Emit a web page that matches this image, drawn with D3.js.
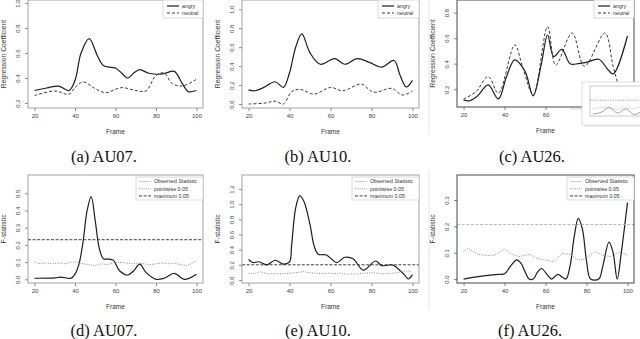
<!DOCTYPE html>
<html>
<head>
<meta charset="utf-8">
<script src="https://cdn.jsdelivr.net/npm/d3@7"></script>
<style>
  body { margin: 0; background: #fff; }
  svg { display: block; font-family: "Liberation Sans", Arial, sans-serif; }
</style>
</head>
<body>
<svg id="fig" width="640" height="339"></svg>
<script>
// ---- data ----
const frameTicks = [20, 40, 60, 80, 100];

// (a) AU07 regression coefficients
const au07AngryFrames = [20, 26, 32, 37, 40, 43, 47, 51, 54, 58, 60, 63, 66, 69, 72, 76, 80, 84, 89, 93, 96, 100];
const au07AngryCoef = [0.30, 0.32, 0.335, 0.30, 0.38, 0.60, 0.715, 0.58, 0.50, 0.485, 0.48, 0.44, 0.40, 0.44, 0.467, 0.44, 0.43, 0.435, 0.453, 0.355, 0.29, 0.30];
const au07NeutralFrames = [20, 30, 37, 40, 44, 50, 55, 63, 70, 75, 80, 84, 88, 93, 100];
const au07NeutralCoef = [0.26, 0.296, 0.27, 0.323, 0.368, 0.315, 0.283, 0.323, 0.30, 0.296, 0.42, 0.44, 0.355, 0.336, 0.39];

// (b) AU10 regression coefficients
const au10AngryFrames = [20, 23, 27, 33, 37, 40, 43, 46, 50, 55, 62, 67, 73, 79, 85, 91, 94, 97, 100];
const au10AngryCoef = [0.15, 0.14, 0.17, 0.235, 0.175, 0.33, 0.60, 0.74, 0.54, 0.42, 0.48, 0.42, 0.48, 0.44, 0.39, 0.46, 0.30, 0.18, 0.25];
const au10NeutralFrames = [20, 28, 33, 37, 41, 45, 52, 60, 66, 75, 81, 90, 95, 100];
const au10NeutralCoef = [0.0, 0.01, 0.03, 0.0, 0.13, 0.155, 0.105, 0.175, 0.14, 0.21, 0.125, 0.165, 0.095, 0.137];

// (c) AU26 regression coefficients
const au26AngryFrames = [20, 23, 27, 32, 37, 41, 45, 50, 54, 58, 61, 64, 68, 72, 76, 80, 86, 90, 93, 100];
const au26AngryCoef = [0.117, 0.11, 0.15, 0.234, 0.124, 0.30, 0.43, 0.34, 0.148, 0.40, 0.625, 0.456, 0.513, 0.40, 0.40, 0.41, 0.435, 0.364, 0.32, 0.617];
const au26NeutralFrames = [20, 26, 32, 37, 45, 49, 54, 61, 65, 73, 79, 89, 93, 96, 100];
const au26NeutralCoef = [0.124, 0.18, 0.30, 0.17, 0.547, 0.364, 0.156, 0.69, 0.39, 0.64, 0.38, 0.64, 0.38, 0.22, 0.10];

// (d) AU07 F-statistic
const au07ObsFrames = [20, 30, 33, 38, 40, 42, 44, 46, 48, 50, 52, 54, 57, 59, 62, 66, 69, 72, 75, 80, 84, 89, 94, 100];
const au07ObsF = [0.006, 0.008, 0.013, 0.006, 0.03, 0.09, 0.22, 0.40, 0.48, 0.34, 0.18, 0.12, 0.117, 0.11, 0.05, 0.025, 0.05, 0.088, 0.04, 0.0, 0.006, 0.035, 0.0, 0.03];
const pointwiseFrames = [20, 23, 26, 29, 32, 35, 38, 41, 44, 47, 50, 53, 56, 59, 62, 65, 68, 71, 74, 77, 80, 83, 86, 89, 92, 95, 98, 100];
const au07PointwiseF = [0.10, 0.09, 0.095, 0.09, 0.095, 0.09, 0.10, 0.10, 0.09, 0.085, 0.08, 0.09, 0.085, 0.095, 0.10, 0.095, 0.09, 0.095, 0.09, 0.085, 0.09, 0.095, 0.09, 0.095, 0.085, 0.08, 0.095, 0.11];
const au07MaximumF = 0.23;

// (e) AU10 F-statistic
const au10ObsFrames = [20, 22, 25, 29, 33, 37, 40, 41, 43, 45, 47, 50, 52, 54, 58, 63, 67, 71, 76, 82, 85, 90, 92, 96, 98, 100];
const au10ObsF = [0.27, 0.23, 0.24, 0.20, 0.26, 0.21, 0.24, 0.45, 0.95, 1.11, 1.04, 0.73, 0.45, 0.34, 0.33, 0.23, 0.30, 0.28, 0.13, 0.25, 0.19, 0.20, 0.17, 0.07, 0.013, 0.07];
const au10PointwiseF = [0.09, 0.085, 0.11, 0.08, 0.085, 0.08, 0.085, 0.09, 0.10, 0.11, 0.095, 0.09, 0.085, 0.09, 0.085, 0.09, 0.075, 0.08, 0.085, 0.09, 0.095, 0.09, 0.08, 0.085, 0.095, 0.11, 0.12, 0.10];
const au10MaximumF = 0.20;

// (f) AU26 F-statistic
const au26ObsFrames = [20, 28, 37, 40, 43, 46, 48, 50, 52, 54, 56, 58, 61, 63, 66, 68, 70, 72, 74, 76, 78, 80, 82, 86, 88, 91, 93, 95, 97, 100];
const au26ObsF = [0.0, 0.01, 0.018, 0.02, 0.05, 0.073, 0.06, 0.028, 0.0, 0.0, 0.025, 0.04, 0.015, 0.0, 0.018, 0.008, 0.0, 0.05, 0.16, 0.23, 0.19, 0.07, 0.0, 0.0, 0.05, 0.14, 0.10, 0.0, 0.10, 0.29];
const au26PointwiseFrames = [20, 22, 27, 31, 35, 38, 40, 43, 47, 52, 56, 60, 64, 68, 72, 76, 80, 84, 88, 92, 96, 100];
const au26PointwiseF = [0.104, 0.117, 0.094, 0.09, 0.09, 0.104, 0.114, 0.097, 0.085, 0.094, 0.078, 0.072, 0.066, 0.097, 0.094, 0.072, 0.078, 0.104, 0.09, 0.085, 0.104, 0.09];
const au26MaximumF = 0.207;

// thumbnail that overlaps panel (c)
const insetFrames = [20, 30, 40, 50, 60, 70, 80, 90, 100];
const insetObserved = [0.01, 0.03, 0.10, 0.02, 0.08, 0.0, 0.06, 0.18, 0.12];
const insetPointwise = [0.08, 0.10, 0.09, 0.07, 0.10, 0.08, 0.12, 0.20, 0.15];
const insetMaximum = 0.2;

const coefLegend = ["angry", "neutral"];
const fLegend = ["Observed Statistic", "pointwise 0.05", "maximum 0.05"];

// ---- drawing ----
const svg = d3.select("#fig");
const curve = d3.curveCatmullRom.alpha(0.5);
const zip = (xs, ys) => xs.map((f, i) => ({ f, v: ys[i] }));

const styles = {
  solid: { stroke: "#1e1e1e", width: 1.2, dash: null },
  dashed: { stroke: "#3a3a3a", width: 1.0, dash: "3,2" },
  dotted: { stroke: "#808080", width: 0.9, dash: "1,1.3" },
  maxDark: { stroke: "#2a2a2a", width: 0.9, dash: "3,1.6" },
  maxLight: { stroke: "#b0b0b0", width: 0.9, dash: "3,1.6" }
};

// light frame lines next to panels (c) and (f)
svg.append("line").attr("x1", 429).attr("x2", 429).attr("y1", 0).attr("y2", 135)
  .attr("stroke", "#e6e6e6").attr("stroke-width", 1);
svg.append("line").attr("x1", 429).attr("x2", 429).attr("y1", 170).attr("y2", 310)
  .attr("stroke", "#e6e6e6").attr("stroke-width", 1);

function drawPanel(p, idx) {
  const g = svg.append("g");
  const x = d3.scaleLinear().domain([16.8, 103.2]).range([p.x0, p.x1]);
  const y = d3.scaleLinear().domain(p.yDomain).range([p.y1, p.y0]);

  const clipId = "clip" + idx;
  g.append("clipPath").attr("id", clipId).append("rect")
    .attr("x", p.x0).attr("y", p.y0).attr("width", p.x1 - p.x0).attr("height", p.y1 - p.y0);

  // x axis
  const xa = g.append("g").attr("transform", `translate(0,${p.y1})`)
    .call(d3.axisBottom(x).tickValues(frameTicks).tickSize(3).tickPadding(3).tickFormat(d3.format("d")));
  xa.select(".domain").remove();
  xa.selectAll("line").attr("stroke", "#555").attr("stroke-width", 0.7);
  xa.selectAll("text").attr("font-size", 6).attr("fill", "#444").attr("font-family", null);

  // y axis, R style rotated labels
  const ya = g.append("g").attr("transform", `translate(${p.x0},0)`)
    .call(d3.axisLeft(y).tickValues(p.yTicks).tickSize(3).tickFormat(d3.format(".1f")));
  ya.select(".domain").remove();
  ya.selectAll("line").attr("stroke", "#555").attr("stroke-width", 0.7);
  ya.selectAll("text").attr("font-size", 6).attr("fill", "#444").attr("font-family", null)
    .attr("x", 0).attr("dy", 0).attr("text-anchor", "middle")
    .attr("transform", "translate(-8.5,0) rotate(-90)");

  // series
  p.series.forEach(s => {
    const st = styles[s.style];
    const line = d3.line().x(d => x(d.f)).y(d => y(d.v)).curve(s.linear ? d3.curveLinear : curve);
    g.append("path").datum(s.data)
      .attr("clip-path", `url(#${clipId})`)
      .attr("fill", "none").attr("stroke", st.stroke).attr("stroke-width", st.width)
      .attr("stroke-dasharray", st.dash).attr("d", line);
  });
  if (p.maximum != null) {
    const st = styles[p.maxStyle];
    g.append("line").attr("x1", p.x0).attr("x2", p.x1)
      .attr("y1", y(p.maximum)).attr("y2", y(p.maximum))
      .attr("stroke", st.stroke).attr("stroke-width", st.width).attr("stroke-dasharray", st.dash);
  }

  // box
  g.append("rect").attr("x", p.x0).attr("y", p.y0)
    .attr("width", p.x1 - p.x0).attr("height", p.y1 - p.y0)
    .attr("fill", "none").attr("stroke", p.boxColor).attr("stroke-width", 0.9);

  // legend
  const L = p.legend;
  const lg = g.append("g");
  lg.append("rect").attr("x", L.x).attr("y", L.y).attr("width", L.w).attr("height", L.h)
    .attr("fill", "#fff").attr("stroke", "#c8c8c8").attr("stroke-width", 0.7);
  L.labels.forEach((lab, i) => {
    const st = styles[L.styles[i]];
    const ly = L.y + L.top + i * L.step;
    lg.append("line").attr("x1", L.lineX0).attr("x2", L.lineX1).attr("y1", ly).attr("y2", ly)
      .attr("stroke", L.lightFirst && i === 0 ? "#cfcfcf" : st.stroke)
      .attr("stroke-width", st.width).attr("stroke-dasharray", st.dash);
    lg.append("text").attr("x", L.textX).attr("y", ly + 1.8).attr("font-size", 5.3)
      .attr("fill", "#333").text(lab);
  });

  // axis titles
  g.append("text").attr("x", (p.x0 + p.x1) / 2).attr("y", p.y1 + 26)
    .attr("text-anchor", "middle").attr("font-size", 6.5).attr("fill", "#333").text("Frame");
  g.append("text")
    .attr("transform", `translate(${p.x0 - 22},${(p.y0 + p.y1) / 2}) rotate(-90)`)
    .attr("text-anchor", "middle").attr("font-size", 6.8).attr("fill", "#333").text(p.yTitle);

  // caption
  svg.append("text").attr("x", p.capX).attr("y", p.capY)
    .attr("text-anchor", "middle").attr("font-family", "'Liberation Serif', 'Times New Roman', serif")
    .attr("font-size", 16.5).attr("fill", "#111").text(p.caption);
  return { x, y };
}

const topLegend = (x, w) => ({
  x, y: 0, w, h: 18, top: 6, step: 7, lineX0: x + 4, lineX1: x + 16, textX: x + 19,
  labels: coefLegend, styles: ["solid", "dashed"]
});
const botLegend = (x, w) => ({
  x, y: 177, w, h: 23, top: 4.5, step: 7.2, lineX0: x + 3, lineX1: x + 15, textX: x + 18,
  labels: fLegend, styles: ["solid", "dotted", "maxDark"], lightFirst: true
});

const panels = [
  {
    x0: 28, x1: 203, y0: 0, y1: 108, yDomain: [0.16, 1.024], yTicks: [0.2, 0.4, 0.6, 0.8, 1.0],
    yTitle: "Regression Coefficient", caption: "(a) AU07.", capX: 104, capY: 162, boxColor: "#9a9a9a",
    series: [
      { data: zip(au07AngryFrames, au07AngryCoef), style: "solid" },
      { data: zip(au07NeutralFrames, au07NeutralCoef), style: "dashed" }
    ],
    legend: topLegend(163, 40)
  },
  {
    x0: 242, x1: 419, y0: 0, y1: 108, yDomain: [-0.042, 1.098], yTicks: [0.0, 0.2, 0.4, 0.6, 0.8, 1.0],
    yTitle: "Regression Coefficient", caption: "(b) AU10.", capX: 318, capY: 162, boxColor: "#9a9a9a",
    series: [
      { data: zip(au10AngryFrames, au10AngryCoef), style: "solid" },
      { data: zip(au10NeutralFrames, au10NeutralCoef), style: "dashed" }
    ],
    legend: topLegend(378, 41)
  },
  {
    x0: 457, x1: 634, y0: 0, y1: 107, yDomain: [0.061, 0.899], yTicks: [0.2, 0.4, 0.6, 0.8],
    yTitle: "Regression Coefficient", caption: "(c) AU26.", capX: 532, capY: 162, boxColor: "#333",
    series: [
      { data: zip(au26AngryFrames, au26AngryCoef), style: "solid" },
      { data: zip(au26NeutralFrames, au26NeutralCoef), style: "dashed" }
    ],
    legend: topLegend(594, 40)
  },
  {
    x0: 28, x1: 203, y0: 175, y1: 283, yDomain: [-0.0215, 0.606], yTicks: [0.0, 0.1, 0.2, 0.3, 0.4, 0.5],
    yTitle: "F-statistic", caption: "(d) AU07.", capX: 104, capY: 336, boxColor: "#9a9a9a",
    series: [
      { data: zip(au07ObsFrames, au07ObsF), style: "solid" },
      { data: zip(pointwiseFrames, au07PointwiseF), style: "dotted", linear: true }
    ],
    maximum: au07MaximumF, maxStyle: "maxDark",
    legend: botLegend(136, 67)
  },
  {
    x0: 242, x1: 419, y0: 175, y1: 283, yDomain: [-0.04, 1.385], yTicks: [0.0, 0.2, 0.4, 0.6, 0.8, 1.0, 1.2],
    yTitle: "F-statistic", caption: "(e) AU10.", capX: 318, capY: 336, boxColor: "#9a9a9a",
    series: [
      { data: zip(au10ObsFrames, au10ObsF), style: "solid" },
      { data: zip(pointwiseFrames, au10PointwiseF), style: "dotted", linear: true }
    ],
    maximum: au10MaximumF, maxStyle: "maxDark",
    legend: botLegend(352, 67)
  },
  {
    x0: 457, x1: 634, y0: 175, y1: 283, yDomain: [-0.015, 0.395], yTicks: [0.0, 0.1, 0.2, 0.3],
    yTitle: "F-statistic", caption: "(f) AU26.", capX: 530, capY: 336, boxColor: "#333",
    series: [
      { data: zip(au26ObsFrames, au26ObsF), style: "solid" },
      { data: zip(au26PointwiseFrames, au26PointwiseF), style: "dotted", linear: true }
    ],
    maximum: au26MaximumF, maxStyle: "maxLight",
    legend: botLegend(567, 67)
  }
];

panels.forEach((p, i) => drawPanel(p, i));

// small thumbnail overlapping the lower right of panel (c)
const inset = svg.append("g");
inset.append("rect").attr("x", 584).attr("y", 84).attr("width", 60).attr("height", 43)
  .attr("fill", "#ececec");
inset.append("rect").attr("x", 582).attr("y", 82).attr("width", 60).attr("height", 43)
  .attr("fill", "#fff").attr("stroke", "#d4d4d4").attr("stroke-width", 0.8);
const ix = d3.scaleLinear().domain([16.8, 103.2]).range([590, 662]);
const iy = d3.scaleLinear().domain([-0.02, 0.4]).range([116, 86]);
inset.append("rect").attr("x", 590).attr("y", 86).attr("width", 60).attr("height", 30)
  .attr("fill", "none").attr("stroke", "#999").attr("stroke-width", 0.5);
inset.append("line").attr("x1", 590).attr("x2", 640).attr("y1", iy(insetMaximum)).attr("y2", iy(insetMaximum))
  .attr("stroke", "#777").attr("stroke-width", 0.6).attr("stroke-dasharray", "1.5,1");
inset.append("path").datum(zip(insetFrames, insetObserved))
  .attr("fill", "none").attr("stroke", "#666").attr("stroke-width", 0.6)
  .attr("d", d3.line().x(d => ix(d.f)).y(d => iy(d.v)).curve(curve));
inset.append("path").datum(zip(insetFrames, insetPointwise))
  .attr("fill", "none").attr("stroke", "#888").attr("stroke-width", 0.6).attr("stroke-dasharray", "0.8,1")
  .attr("d", d3.line().x(d => ix(d.f)).y(d => iy(d.v)));
inset.append("line").attr("x1", 570).attr("x2", 582).attr("y1", 109).attr("y2", 109)
  .attr("stroke", "#bbb").attr("stroke-width", 0.6);
</script>
</body>
</html>
